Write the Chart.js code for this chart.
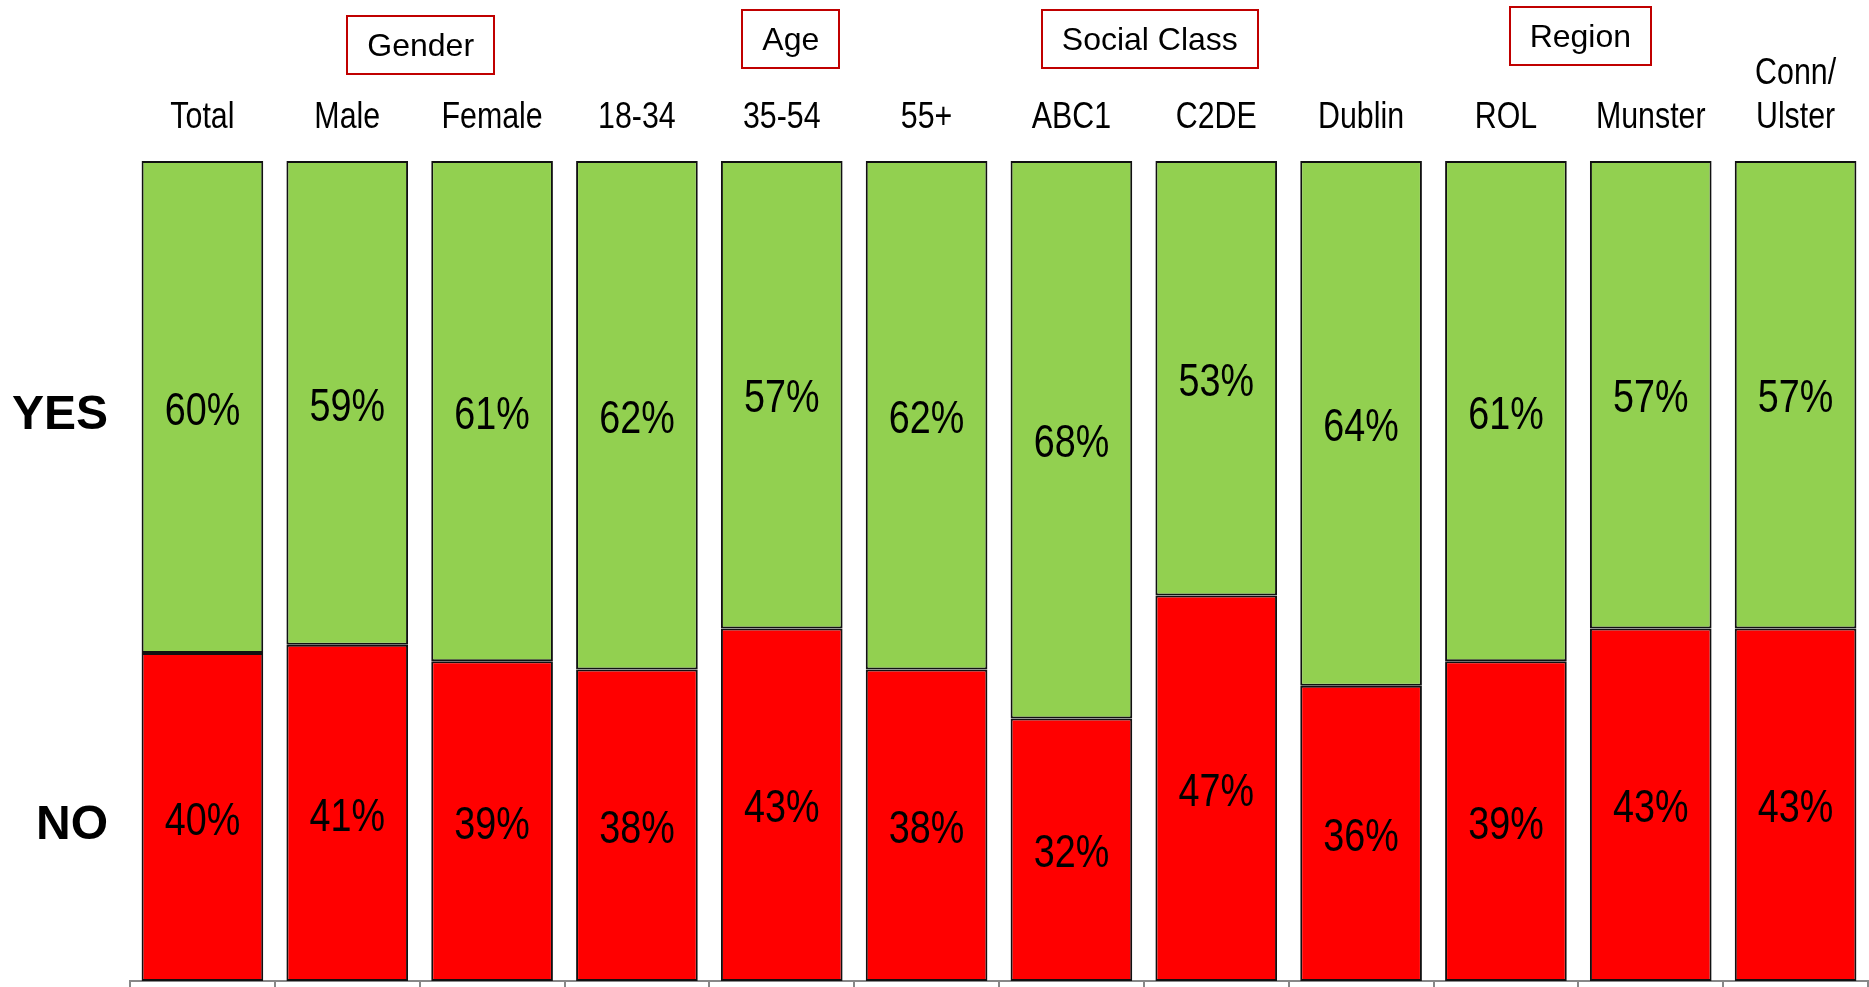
<!DOCTYPE html>
<html>
<head>
<meta charset="utf-8">
<title>Yes / No by group</title>
<script src="https://cdn.jsdelivr.net/npm/chart.js@4.4.1/dist/chart.umd.min.js"></script>
<style>
  html, body { margin: 0; padding: 0; background: #fff; }
  canvas { display: block; }
</style>
</head>
<body>
<canvas id="yesNoChart" width="1869" height="987"></canvas>
<script>
// categories, bottom line last for two-line labels
var categories = ["Total", "Male", "Female", "18-34", "35-54", "55+", "ABC1", "C2DE", "Dublin", "ROL", "Munster", ["Conn/", "Ulster"]];
var yesValues = [60, 59, 61, 62, 57, 62, 68, 53, 64, 61, 57, 57];
var noValues  = [40, 41, 39, 38, 43, 38, 32, 47, 36, 39, 43, 43];

// header groups (first / last category index)
var groupNames = ["Gender", "Age", "Social Class", "Region"];
var groupFirst = [1, 3, 6, 8];
var groupLast  = [2, 5, 7, 11];

var regular = "'Liberation Sans', Arial, sans-serif";

// no narrow face installed, so squeeze the regular one horizontally
function narrowText(ctx, text, x, y, sx) {
    ctx.save();
    ctx.translate(x, y);
    ctx.scale(sx, 1);
    ctx.fillText(text, 0, 0);
    ctx.restore();
}

var labelsPlugin = {
    id: 'labelsPlugin',
    afterDraw: function (chart) {
        var ctx = chart.ctx;
        var xs = chart.scales.x;
        ctx.save();
        ctx.fillStyle = '#000';
        ctx.textAlign = 'center';
        ctx.textBaseline = 'middle';

        // percentages inside every segment
        ctx.font = "46px " + regular;
        chart.data.datasets.forEach(function (ds, d) {
            var meta = chart.getDatasetMeta(d);
            meta.data.forEach(function (bar, i) {
                var cy = (bar.y + bar.base) / 2 + 5;
                narrowText(ctx, ds.data[i] + '%', bar.x, cy, 0.82);
            });
        });

        // category labels above the bars
        ctx.font = "37px " + regular;
        categories.forEach(function (lab, i) {
            var lines = Array.isArray(lab) ? lab : [lab];
            var x = xs.getPixelForValue(i);
            for (var k = 0; k < lines.length; k++) {
                var y = 118 - (lines.length - 1 - k) * 44;
                narrowText(ctx, lines[k], x, y, 0.82);
            }
        });

        // group boxes
        var nudge = [[1, 45], [9, 39], [6, 39], [2, 36]];
        ctx.font = "32px " + regular;
        groupNames.forEach(function (name, g) {
            var cx = (xs.getPixelForValue(groupFirst[g]) + xs.getPixelForValue(groupLast[g])) / 2 + nudge[g][0];
            var cy = nudge[g][1];
            var w = ctx.measureText(name).width + 40;
            var h = 58;
            ctx.strokeStyle = '#c00000';
            ctx.lineWidth = 2;
            ctx.strokeRect(Math.round(cx - w / 2), Math.round(cy - h / 2), Math.round(w), h);
            ctx.fillText(name, cx, cy + 2);
        });

        // YES / NO row labels, centred on the first column's segments
        ctx.font = "bold 48px " + regular;
        ctx.textAlign = 'right';
        chart.data.datasets.forEach(function (ds, d) {
            var bar = chart.getDatasetMeta(d).data[0];
            ctx.fillText(ds.label, 108, (bar.y + bar.base) / 2 + 9);
        });
        ctx.restore();
    }
};

var ctxB = document.getElementById("yesNoChart").getContext('2d');
var yesNoChart = new Chart(ctxB, {
    type: 'bar',
    data: {
        labels: categories,
        datasets: [{
            label: 'NO',
            data: noValues,
            backgroundColor: '#ff0000',
            borderColor: '#111',
            borderWidth: 2,
            borderSkipped: false
        }, {
            label: 'YES',
            data: yesValues,
            backgroundColor: '#92d050',
            borderColor: '#111',
            borderWidth: 2,
            borderSkipped: false
        }]
    },
    options: {
        responsive: false,
        animation: false,
        layout: { padding: { left: 130, top: 161, right: 1, bottom: 0 } },
        categoryPercentage: 1.0,
        barPercentage: 0.84,
        plugins: {
            legend: { display: false },
            tooltip: { enabled: false }
        },
        scales: {
            x: {
                stacked: true,
                ticks: { display: false },
                grid: { drawOnChartArea: false, drawTicks: true, tickLength: 6, color: '#888', lineWidth: 2 },
                border: { color: '#888', width: 2 }
            },
            y: {
                stacked: true,
                display: false,
                min: 0,
                max: 100
            }
        }
    },
    plugins: [labelsPlugin]
});
</script>
</body>
</html>
